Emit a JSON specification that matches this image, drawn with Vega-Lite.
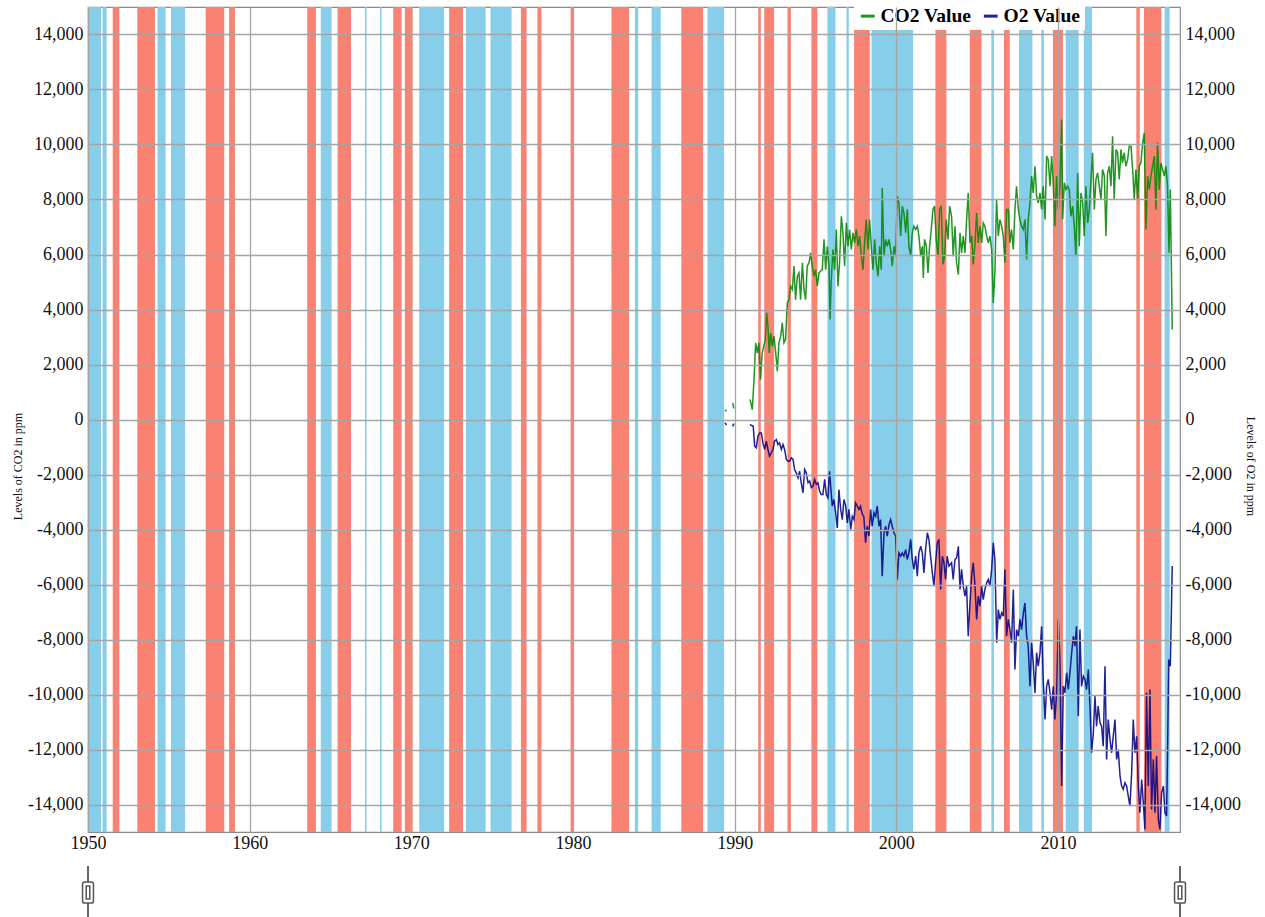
{
  "$schema": "https://vega.github.io/schema/vega-lite/v6.json",
  "autosize": {"type": "none"},
  "width": 1092,
  "height": 825,
  "padding": {"left": 88, "top": 7, "right": 85, "bottom": 85},
  "background": "white",
  "config": {
    "view": {"stroke": "#8a8a8a", "strokeWidth": 1.2},
    "font": "Liberation Serif",
    "axis": {
      "labelFont": "Liberation Serif",
      "labelFontSize": 18,
      "labelColor": "#111",
      "titleFont": "Liberation Serif",
      "titleFontSize": 12,
      "titleFontWeight": "normal",
      "titleColor": "#111",
      "ticks": false,
      "domain": false,
      "gridColor": "#a5a5a5",
      "gridWidth": 1.3,
      "gridOpacity": 1
    }
  },
  "datasets": {
    "bands": [
      {"s": 1950.0, "e": 1950.8, "k": "cold"},
      {"s": 1950.9, "e": 1951.15, "k": "cold"},
      {"s": 1951.53, "e": 1951.94, "k": "warm"},
      {"s": 1953.05, "e": 1954.14, "k": "warm"},
      {"s": 1954.3, "e": 1954.8, "k": "cold"},
      {"s": 1955.13, "e": 1956.0, "k": "cold"},
      {"s": 1957.28, "e": 1958.43, "k": "warm"},
      {"s": 1958.73, "e": 1959.09, "k": "warm"},
      {"s": 1963.56, "e": 1964.1, "k": "warm"},
      {"s": 1964.4, "e": 1965.07, "k": "cold"},
      {"s": 1965.44, "e": 1966.27, "k": "warm"},
      {"s": 1967.13, "e": 1967.23, "k": "cold"},
      {"s": 1968.06, "e": 1968.16, "k": "cold"},
      {"s": 1968.88, "e": 1969.4, "k": "warm"},
      {"s": 1969.6, "e": 1970.08, "k": "warm"},
      {"s": 1970.49, "e": 1972.03, "k": "cold"},
      {"s": 1972.34, "e": 1973.2, "k": "warm"},
      {"s": 1973.38, "e": 1974.6, "k": "cold"},
      {"s": 1974.9, "e": 1976.2, "k": "cold"},
      {"s": 1976.78, "e": 1977.13, "k": "warm"},
      {"s": 1977.8, "e": 1978.05, "k": "warm"},
      {"s": 1979.85, "e": 1980.0, "k": "warm"},
      {"s": 1982.38, "e": 1983.47, "k": "warm"},
      {"s": 1983.83, "e": 1984.03, "k": "cold"},
      {"s": 1984.86, "e": 1985.43, "k": "cold"},
      {"s": 1986.7, "e": 1988.05, "k": "warm"},
      {"s": 1988.32, "e": 1989.35, "k": "cold"},
      {"s": 1991.46, "e": 1991.62, "k": "warm"},
      {"s": 1991.83, "e": 1992.44, "k": "warm"},
      {"s": 1993.27, "e": 1993.48, "k": "warm"},
      {"s": 1994.75, "e": 1995.12, "k": "warm"},
      {"s": 1995.74, "e": 1996.24, "k": "cold"},
      {"s": 1996.92, "e": 1997.06, "k": "cold"},
      {"s": 1997.39, "e": 1998.36, "k": "warm"},
      {"s": 1998.47, "e": 2001.04, "k": "cold"},
      {"s": 2002.42, "e": 2003.1, "k": "warm"},
      {"s": 2004.55, "e": 2005.27, "k": "warm"},
      {"s": 2005.88, "e": 2006.04, "k": "cold"},
      {"s": 2006.66, "e": 2007.02, "k": "warm"},
      {"s": 2007.59, "e": 2008.42, "k": "cold"},
      {"s": 2008.97, "e": 2009.13, "k": "cold"},
      {"s": 2009.69, "e": 2010.31, "k": "warm"},
      {"s": 2010.48, "e": 2011.28, "k": "cold"},
      {"s": 2011.6, "e": 2012.11, "k": "cold"},
      {"s": 2014.85, "e": 2015.06, "k": "warm"},
      {"s": 2015.32, "e": 2016.4, "k": "warm"},
      {"s": 2016.6, "e": 2016.91, "k": "cold"}
    ],
    "co2": [
      {"t": 1989.40, "v": 300, "g": 1}, {"t": 1989.50, "v": 350, "g": 1},
      {"t": 1989.88, "v": 600, "g": 2}, {"t": 1989.95, "v": 400, "g": 2},
      {"t": 1990.95, "v": 730, "g": 3}, {"t": 1991.09, "v": 360, "g": 3}, {"t": 1991.2, "v": 1450, "g": 3}, {"t": 1991.3, "v": 2790, "g": 3},
      {"t": 1991.4, "v": 2420, "g": 3}, {"t": 1991.5, "v": 2790, "g": 3}, {"t": 1991.6, "v": 1450, "g": 3}, {"t": 1991.7, "v": 2420, "g": 3},
      {"t": 1991.8, "v": 2670, "g": 3}, {"t": 1991.9, "v": 2910, "g": 3}, {"t": 1991.98, "v": 3880, "g": 3}, {"t": 1992.06, "v": 3390, "g": 3},
      {"t": 1992.14, "v": 2420, "g": 3}, {"t": 1992.23, "v": 3150, "g": 3}, {"t": 1992.33, "v": 2670, "g": 3}, {"t": 1992.43, "v": 3030, "g": 3},
      {"t": 1992.54, "v": 2420, "g": 3}, {"t": 1992.64, "v": 1760, "g": 3}, {"t": 1992.74, "v": 2790, "g": 3}, {"t": 1992.85, "v": 3030, "g": 3},
      {"t": 1992.95, "v": 3520, "g": 3}, {"t": 1993.05, "v": 2790, "g": 3}, {"t": 1993.15, "v": 2910, "g": 3}, {"t": 1993.26, "v": 4240, "g": 3},
      {"t": 1993.36, "v": 4360, "g": 3}, {"t": 1993.46, "v": 4850, "g": 3}, {"t": 1993.57, "v": 4730, "g": 3}, {"t": 1993.67, "v": 5580, "g": 3},
      {"t": 1993.77, "v": 4360, "g": 3}, {"t": 1993.88, "v": 5210, "g": 3}, {"t": 1993.98, "v": 5330, "g": 3}, {"t": 1994.08, "v": 4360, "g": 3},
      {"t": 1994.19, "v": 5700, "g": 3}, {"t": 1994.29, "v": 4730, "g": 3}, {"t": 1994.39, "v": 4360, "g": 3}, {"t": 1994.49, "v": 5580, "g": 3},
      {"t": 1994.6, "v": 5700, "g": 3}, {"t": 1994.7, "v": 6060, "g": 3}, {"t": 1994.8, "v": 5580, "g": 3}, {"t": 1994.91, "v": 5210, "g": 3},
      {"t": 1995.01, "v": 5450, "g": 3}, {"t": 1995.11, "v": 4850, "g": 3}, {"t": 1995.22, "v": 5330, "g": 3}, {"t": 1995.32, "v": 5390, "g": 3},
      {"t": 1995.42, "v": 5450, "g": 3}, {"t": 1995.53, "v": 6550, "g": 3}, {"t": 1995.63, "v": 5450, "g": 3}, {"t": 1995.73, "v": 6300, "g": 3},
      {"t": 1995.84, "v": 5580, "g": 3}, {"t": 1995.9, "v": 3640, "g": 3}, {"t": 1995.98, "v": 5090, "g": 3}, {"t": 1996.08, "v": 6180, "g": 3},
      {"t": 1996.19, "v": 5450, "g": 3}, {"t": 1996.29, "v": 6910, "g": 3}, {"t": 1996.39, "v": 4850, "g": 3}, {"t": 1996.49, "v": 5700, "g": 3},
      {"t": 1996.6, "v": 7390, "g": 3}, {"t": 1996.7, "v": 6790, "g": 3}, {"t": 1996.8, "v": 5580, "g": 3}, {"t": 1996.91, "v": 7150, "g": 3},
      {"t": 1997.01, "v": 6300, "g": 3}, {"t": 1997.11, "v": 6910, "g": 3}, {"t": 1997.22, "v": 6180, "g": 3}, {"t": 1997.32, "v": 6790, "g": 3},
      {"t": 1997.42, "v": 6420, "g": 3}, {"t": 1997.53, "v": 6910, "g": 3}, {"t": 1997.63, "v": 6300, "g": 3}, {"t": 1997.73, "v": 6670, "g": 3},
      {"t": 1997.84, "v": 5940, "g": 3}, {"t": 1997.94, "v": 5450, "g": 3}, {"t": 1998.04, "v": 6420, "g": 3}, {"t": 1998.14, "v": 7270, "g": 3},
      {"t": 1998.25, "v": 6180, "g": 3}, {"t": 1998.35, "v": 7270, "g": 3}, {"t": 1998.45, "v": 6300, "g": 3}, {"t": 1998.56, "v": 5450, "g": 3},
      {"t": 1998.66, "v": 6550, "g": 3}, {"t": 1998.76, "v": 5700, "g": 3}, {"t": 1998.87, "v": 5210, "g": 3}, {"t": 1998.97, "v": 6300, "g": 3},
      {"t": 1999.07, "v": 5450, "g": 3}, {"t": 1999.13, "v": 8420, "g": 3}, {"t": 1999.24, "v": 5940, "g": 3}, {"t": 1999.34, "v": 6550, "g": 3},
      {"t": 1999.44, "v": 6300, "g": 3}, {"t": 1999.55, "v": 6550, "g": 3}, {"t": 1999.65, "v": 6180, "g": 3}, {"t": 1999.75, "v": 5580, "g": 3},
      {"t": 1999.86, "v": 6300, "g": 3}, {"t": 1999.96, "v": 5940, "g": 3}, {"t": 2000.06, "v": 8120, "g": 3}, {"t": 2000.16, "v": 7880, "g": 3},
      {"t": 2000.27, "v": 6670, "g": 3}, {"t": 2000.37, "v": 7760, "g": 3}, {"t": 2000.47, "v": 7520, "g": 3}, {"t": 2000.58, "v": 6790, "g": 3},
      {"t": 2000.68, "v": 7640, "g": 3}, {"t": 2000.78, "v": 6300, "g": 3}, {"t": 2000.89, "v": 5940, "g": 3}, {"t": 2000.99, "v": 6790, "g": 3},
      {"t": 2001.09, "v": 7030, "g": 3}, {"t": 2001.2, "v": 6910, "g": 3}, {"t": 2001.3, "v": 7030, "g": 3}, {"t": 2001.4, "v": 6670, "g": 3},
      {"t": 2001.51, "v": 5940, "g": 3}, {"t": 2001.61, "v": 6300, "g": 3}, {"t": 2001.67, "v": 5150, "g": 3}, {"t": 2001.75, "v": 6550, "g": 3},
      {"t": 2001.86, "v": 6300, "g": 3}, {"t": 2001.96, "v": 5330, "g": 3}, {"t": 2002.06, "v": 6300, "g": 3}, {"t": 2002.16, "v": 6910, "g": 3},
      {"t": 2002.27, "v": 7640, "g": 3}, {"t": 2002.37, "v": 7760, "g": 3}, {"t": 2002.47, "v": 6550, "g": 3}, {"t": 2002.58, "v": 5940, "g": 3},
      {"t": 2002.68, "v": 7640, "g": 3}, {"t": 2002.78, "v": 7760, "g": 3}, {"t": 2002.89, "v": 5640, "g": 3}, {"t": 2002.99, "v": 5940, "g": 3},
      {"t": 2003.09, "v": 7270, "g": 3}, {"t": 2003.2, "v": 6550, "g": 3}, {"t": 2003.3, "v": 7760, "g": 3}, {"t": 2003.42, "v": 7390, "g": 3},
      {"t": 2003.52, "v": 5940, "g": 3}, {"t": 2003.63, "v": 7030, "g": 3}, {"t": 2003.73, "v": 5700, "g": 3}, {"t": 2003.84, "v": 5270, "g": 3},
      {"t": 2003.94, "v": 6790, "g": 3}, {"t": 2004.04, "v": 6060, "g": 3}, {"t": 2004.14, "v": 6670, "g": 3}, {"t": 2004.25, "v": 6060, "g": 3},
      {"t": 2004.35, "v": 7270, "g": 3}, {"t": 2004.45, "v": 8240, "g": 3}, {"t": 2004.56, "v": 6420, "g": 3}, {"t": 2004.66, "v": 6670, "g": 3},
      {"t": 2004.76, "v": 5640, "g": 3}, {"t": 2004.87, "v": 6420, "g": 3}, {"t": 2004.97, "v": 7520, "g": 3}, {"t": 2005.07, "v": 6420, "g": 3},
      {"t": 2005.18, "v": 7030, "g": 3}, {"t": 2005.28, "v": 6420, "g": 3}, {"t": 2005.38, "v": 7150, "g": 3}, {"t": 2005.48, "v": 7030, "g": 3},
      {"t": 2005.59, "v": 6670, "g": 3}, {"t": 2005.69, "v": 6420, "g": 3}, {"t": 2005.79, "v": 6670, "g": 3}, {"t": 2005.9, "v": 6180, "g": 3},
      {"t": 2006.0, "v": 4240, "g": 3}, {"t": 2006.1, "v": 5330, "g": 3}, {"t": 2006.2, "v": 8000, "g": 3}, {"t": 2006.31, "v": 6670, "g": 3},
      {"t": 2006.41, "v": 7270, "g": 3}, {"t": 2006.52, "v": 7030, "g": 3}, {"t": 2006.62, "v": 6670, "g": 3}, {"t": 2006.72, "v": 5700, "g": 3},
      {"t": 2006.82, "v": 7640, "g": 3}, {"t": 2006.93, "v": 7640, "g": 3}, {"t": 2007.03, "v": 6420, "g": 3}, {"t": 2007.13, "v": 6910, "g": 3},
      {"t": 2007.24, "v": 6180, "g": 3}, {"t": 2007.34, "v": 7640, "g": 3}, {"t": 2007.44, "v": 8480, "g": 3}, {"t": 2007.55, "v": 7640, "g": 3},
      {"t": 2007.65, "v": 7270, "g": 3}, {"t": 2007.75, "v": 7030, "g": 3}, {"t": 2007.86, "v": 6910, "g": 3}, {"t": 2007.96, "v": 7270, "g": 3},
      {"t": 2008.06, "v": 5820, "g": 3}, {"t": 2008.16, "v": 7270, "g": 3}, {"t": 2008.27, "v": 7880, "g": 3}, {"t": 2008.37, "v": 8850, "g": 3},
      {"t": 2008.47, "v": 8240, "g": 3}, {"t": 2008.58, "v": 9210, "g": 3}, {"t": 2008.68, "v": 8120, "g": 3}, {"t": 2008.78, "v": 7880, "g": 3},
      {"t": 2008.89, "v": 8240, "g": 3}, {"t": 2008.99, "v": 7640, "g": 3}, {"t": 2009.09, "v": 8480, "g": 3}, {"t": 2009.2, "v": 7270, "g": 3},
      {"t": 2009.3, "v": 9580, "g": 3}, {"t": 2009.4, "v": 9450, "g": 3}, {"t": 2009.51, "v": 8480, "g": 3}, {"t": 2009.61, "v": 9580, "g": 3},
      {"t": 2009.71, "v": 8610, "g": 3}, {"t": 2009.81, "v": 7030, "g": 3}, {"t": 2009.92, "v": 8850, "g": 3}, {"t": 2010.02, "v": 7640, "g": 3},
      {"t": 2010.12, "v": 8480, "g": 3}, {"t": 2010.23, "v": 10910, "g": 3}, {"t": 2010.29, "v": 7270, "g": 3}, {"t": 2010.39, "v": 8610, "g": 3},
      {"t": 2010.49, "v": 8360, "g": 3}, {"t": 2010.6, "v": 8480, "g": 3}, {"t": 2010.7, "v": 8360, "g": 3}, {"t": 2010.8, "v": 7390, "g": 3},
      {"t": 2010.91, "v": 7760, "g": 3}, {"t": 2011.01, "v": 7030, "g": 3}, {"t": 2011.11, "v": 5940, "g": 3}, {"t": 2011.22, "v": 8970, "g": 3},
      {"t": 2011.32, "v": 6300, "g": 3}, {"t": 2011.42, "v": 8240, "g": 3}, {"t": 2011.53, "v": 7880, "g": 3}, {"t": 2011.63, "v": 6670, "g": 3},
      {"t": 2011.73, "v": 8480, "g": 3}, {"t": 2011.84, "v": 7150, "g": 3}, {"t": 2011.94, "v": 7640, "g": 3}, {"t": 2012.04, "v": 8730, "g": 3},
      {"t": 2012.14, "v": 9700, "g": 3}, {"t": 2012.25, "v": 7640, "g": 3}, {"t": 2012.35, "v": 8730, "g": 3}, {"t": 2012.45, "v": 8970, "g": 3},
      {"t": 2012.56, "v": 8480, "g": 3}, {"t": 2012.66, "v": 8000, "g": 3}, {"t": 2012.76, "v": 9090, "g": 3}, {"t": 2012.87, "v": 8850, "g": 3},
      {"t": 2012.97, "v": 6670, "g": 3}, {"t": 2013.07, "v": 8970, "g": 3}, {"t": 2013.18, "v": 9210, "g": 3}, {"t": 2013.28, "v": 8480, "g": 3},
      {"t": 2013.38, "v": 10300, "g": 3}, {"t": 2013.48, "v": 8000, "g": 3}, {"t": 2013.59, "v": 9820, "g": 3}, {"t": 2013.69, "v": 9700, "g": 3},
      {"t": 2013.79, "v": 8730, "g": 3}, {"t": 2013.9, "v": 9820, "g": 3}, {"t": 2013.99, "v": 9330, "g": 3}, {"t": 2014.1, "v": 9700, "g": 3},
      {"t": 2014.2, "v": 9210, "g": 3}, {"t": 2014.31, "v": 9450, "g": 3}, {"t": 2014.41, "v": 9940, "g": 3}, {"t": 2014.52, "v": 9940, "g": 3},
      {"t": 2014.62, "v": 9090, "g": 3}, {"t": 2014.72, "v": 8000, "g": 3}, {"t": 2014.82, "v": 9090, "g": 3}, {"t": 2014.93, "v": 8000, "g": 3},
      {"t": 2015.03, "v": 9210, "g": 3}, {"t": 2015.13, "v": 9330, "g": 3}, {"t": 2015.24, "v": 10060, "g": 3}, {"t": 2015.34, "v": 10420, "g": 3},
      {"t": 2015.44, "v": 6910, "g": 3}, {"t": 2015.55, "v": 8850, "g": 3}, {"t": 2015.65, "v": 8360, "g": 3}, {"t": 2015.75, "v": 8850, "g": 3},
      {"t": 2015.86, "v": 9210, "g": 3}, {"t": 2015.96, "v": 9580, "g": 3}, {"t": 2016.06, "v": 7640, "g": 3}, {"t": 2016.16, "v": 10060, "g": 3},
      {"t": 2016.27, "v": 8360, "g": 3}, {"t": 2016.37, "v": 9330, "g": 3}, {"t": 2016.47, "v": 9090, "g": 3}, {"t": 2016.58, "v": 8850, "g": 3},
      {"t": 2016.68, "v": 9210, "g": 3}, {"t": 2016.78, "v": 8480, "g": 3}, {"t": 2016.87, "v": 6060, "g": 3}, {"t": 2016.95, "v": 8360, "g": 3},
      {"t": 2017.07, "v": 3270, "g": 3}
    ],
    "o2": [
      {"t": 1989.40, "v": -120, "g": 1}, {"t": 1989.50, "v": -200, "g": 1},
      {"t": 1989.88, "v": -250, "g": 2}, {"t": 1989.95, "v": -150, "g": 2},
      {"t": 1990.95, "v": -180, "g": 3}, {"t": 1991.05, "v": -220, "g": 3}, {"t": 1991.15, "v": -240, "g": 3}, {"t": 1991.24, "v": -970, "g": 3},
      {"t": 1991.34, "v": -1030, "g": 3}, {"t": 1991.44, "v": -610, "g": 3}, {"t": 1991.55, "v": -490, "g": 3}, {"t": 1991.65, "v": -490, "g": 3},
      {"t": 1991.75, "v": -850, "g": 3}, {"t": 1991.86, "v": -1090, "g": 3}, {"t": 1991.96, "v": -790, "g": 3}, {"t": 1992.06, "v": -1090, "g": 3},
      {"t": 1992.16, "v": -1330, "g": 3}, {"t": 1992.27, "v": -1210, "g": 3}, {"t": 1992.37, "v": -1090, "g": 3}, {"t": 1992.47, "v": -790, "g": 3},
      {"t": 1992.58, "v": -730, "g": 3}, {"t": 1992.68, "v": -910, "g": 3}, {"t": 1992.78, "v": -850, "g": 3}, {"t": 1992.89, "v": -1090, "g": 3},
      {"t": 1992.99, "v": -910, "g": 3}, {"t": 1993.09, "v": -1090, "g": 3}, {"t": 1993.2, "v": -1450, "g": 3}, {"t": 1993.3, "v": -1520, "g": 3},
      {"t": 1993.4, "v": -1520, "g": 3}, {"t": 1993.51, "v": -1390, "g": 3}, {"t": 1993.61, "v": -1450, "g": 3}, {"t": 1993.71, "v": -1820, "g": 3},
      {"t": 1993.81, "v": -1940, "g": 3}, {"t": 1993.92, "v": -2120, "g": 3}, {"t": 1994.02, "v": -1880, "g": 3}, {"t": 1994.12, "v": -2300, "g": 3},
      {"t": 1994.23, "v": -2670, "g": 3}, {"t": 1994.33, "v": -1820, "g": 3}, {"t": 1994.43, "v": -1940, "g": 3}, {"t": 1994.54, "v": -2300, "g": 3},
      {"t": 1994.64, "v": -2240, "g": 3}, {"t": 1994.74, "v": -2480, "g": 3}, {"t": 1994.85, "v": -2420, "g": 3}, {"t": 1994.95, "v": -2180, "g": 3},
      {"t": 1995.05, "v": -2360, "g": 3}, {"t": 1995.15, "v": -2300, "g": 3}, {"t": 1995.26, "v": -2610, "g": 3}, {"t": 1995.36, "v": -2730, "g": 3},
      {"t": 1995.46, "v": -2730, "g": 3}, {"t": 1995.57, "v": -2180, "g": 3}, {"t": 1995.67, "v": -2730, "g": 3}, {"t": 1995.77, "v": -2850, "g": 3},
      {"t": 1995.87, "v": -1880, "g": 3}, {"t": 1995.94, "v": -2420, "g": 3}, {"t": 1996.04, "v": -3150, "g": 3}, {"t": 1996.14, "v": -2910, "g": 3},
      {"t": 1996.25, "v": -3390, "g": 3}, {"t": 1996.35, "v": -3940, "g": 3}, {"t": 1996.45, "v": -2550, "g": 3}, {"t": 1996.56, "v": -3270, "g": 3},
      {"t": 1996.66, "v": -3640, "g": 3}, {"t": 1996.76, "v": -2910, "g": 3}, {"t": 1996.87, "v": -3150, "g": 3}, {"t": 1996.97, "v": -3760, "g": 3},
      {"t": 1997.07, "v": -3270, "g": 3}, {"t": 1997.18, "v": -4000, "g": 3}, {"t": 1997.28, "v": -3520, "g": 3}, {"t": 1997.38, "v": -3640, "g": 3},
      {"t": 1997.48, "v": -3030, "g": 3}, {"t": 1997.59, "v": -3150, "g": 3}, {"t": 1997.69, "v": -3270, "g": 3}, {"t": 1997.79, "v": -3150, "g": 3},
      {"t": 1997.9, "v": -3450, "g": 3}, {"t": 1997.99, "v": -3520, "g": 3}, {"t": 1998.1, "v": -4480, "g": 3}, {"t": 1998.2, "v": -3880, "g": 3},
      {"t": 1998.31, "v": -4240, "g": 3}, {"t": 1998.41, "v": -3270, "g": 3}, {"t": 1998.51, "v": -3880, "g": 3}, {"t": 1998.62, "v": -3390, "g": 3},
      {"t": 1998.72, "v": -3520, "g": 3}, {"t": 1998.82, "v": -3150, "g": 3}, {"t": 1998.93, "v": -3880, "g": 3}, {"t": 1999.03, "v": -3640, "g": 3},
      {"t": 1999.13, "v": -5700, "g": 3}, {"t": 1999.24, "v": -4120, "g": 3}, {"t": 1999.34, "v": -3880, "g": 3}, {"t": 1999.44, "v": -4240, "g": 3},
      {"t": 1999.55, "v": -3820, "g": 3}, {"t": 1999.65, "v": -3640, "g": 3}, {"t": 1999.75, "v": -3880, "g": 3}, {"t": 1999.86, "v": -4120, "g": 3},
      {"t": 1999.96, "v": -4240, "g": 3}, {"t": 2000.06, "v": -5820, "g": 3}, {"t": 2000.16, "v": -4850, "g": 3}, {"t": 2000.27, "v": -4970, "g": 3},
      {"t": 2000.37, "v": -4850, "g": 3}, {"t": 2000.47, "v": -4970, "g": 3}, {"t": 2000.58, "v": -4730, "g": 3}, {"t": 2000.68, "v": -5090, "g": 3},
      {"t": 2000.78, "v": -4850, "g": 3}, {"t": 2000.89, "v": -4360, "g": 3}, {"t": 2000.99, "v": -5090, "g": 3}, {"t": 2001.09, "v": -5450, "g": 3},
      {"t": 2001.2, "v": -4970, "g": 3}, {"t": 2001.3, "v": -5700, "g": 3}, {"t": 2001.4, "v": -4850, "g": 3}, {"t": 2001.51, "v": -4610, "g": 3},
      {"t": 2001.61, "v": -4850, "g": 3}, {"t": 2001.71, "v": -5580, "g": 3}, {"t": 2001.81, "v": -4730, "g": 3}, {"t": 2001.92, "v": -4120, "g": 3},
      {"t": 2002.02, "v": -4360, "g": 3}, {"t": 2002.12, "v": -4970, "g": 3}, {"t": 2002.23, "v": -5580, "g": 3}, {"t": 2002.33, "v": -6060, "g": 3},
      {"t": 2002.43, "v": -5210, "g": 3}, {"t": 2002.54, "v": -4480, "g": 3}, {"t": 2002.64, "v": -4360, "g": 3}, {"t": 2002.74, "v": -6180, "g": 3},
      {"t": 2002.85, "v": -4970, "g": 3}, {"t": 2002.95, "v": -5210, "g": 3}, {"t": 2003.05, "v": -5820, "g": 3}, {"t": 2003.15, "v": -4970, "g": 3},
      {"t": 2003.26, "v": -5330, "g": 3}, {"t": 2003.42, "v": -5210, "g": 3}, {"t": 2003.52, "v": -5820, "g": 3}, {"t": 2003.63, "v": -5090, "g": 3},
      {"t": 2003.73, "v": -5030, "g": 3}, {"t": 2003.84, "v": -4610, "g": 3}, {"t": 2003.94, "v": -6180, "g": 3}, {"t": 2004.04, "v": -5450, "g": 3},
      {"t": 2004.14, "v": -6060, "g": 3}, {"t": 2004.25, "v": -6420, "g": 3}, {"t": 2004.35, "v": -6060, "g": 3}, {"t": 2004.45, "v": -7880, "g": 3},
      {"t": 2004.56, "v": -6670, "g": 3}, {"t": 2004.66, "v": -5700, "g": 3}, {"t": 2004.76, "v": -5210, "g": 3}, {"t": 2004.87, "v": -6060, "g": 3},
      {"t": 2004.97, "v": -7270, "g": 3}, {"t": 2005.07, "v": -6420, "g": 3}, {"t": 2005.18, "v": -6790, "g": 3}, {"t": 2005.28, "v": -6060, "g": 3},
      {"t": 2005.38, "v": -6550, "g": 3}, {"t": 2005.48, "v": -6180, "g": 3}, {"t": 2005.59, "v": -5940, "g": 3}, {"t": 2005.69, "v": -5820, "g": 3},
      {"t": 2005.79, "v": -6060, "g": 3}, {"t": 2005.9, "v": -5450, "g": 3}, {"t": 2006.0, "v": -4480, "g": 3}, {"t": 2006.1, "v": -5090, "g": 3},
      {"t": 2006.21, "v": -8120, "g": 3}, {"t": 2006.31, "v": -6910, "g": 3}, {"t": 2006.41, "v": -7270, "g": 3}, {"t": 2006.52, "v": -7030, "g": 3},
      {"t": 2006.62, "v": -7150, "g": 3}, {"t": 2006.72, "v": -5450, "g": 3}, {"t": 2006.82, "v": -7880, "g": 3}, {"t": 2006.93, "v": -7270, "g": 3},
      {"t": 2007.03, "v": -7640, "g": 3}, {"t": 2007.13, "v": -8120, "g": 3}, {"t": 2007.24, "v": -6180, "g": 3}, {"t": 2007.34, "v": -9090, "g": 3},
      {"t": 2007.44, "v": -7640, "g": 3}, {"t": 2007.55, "v": -7880, "g": 3}, {"t": 2007.65, "v": -7270, "g": 3}, {"t": 2007.75, "v": -7640, "g": 3},
      {"t": 2007.86, "v": -7030, "g": 3}, {"t": 2007.96, "v": -6670, "g": 3}, {"t": 2008.06, "v": -7880, "g": 3}, {"t": 2008.16, "v": -8240, "g": 3},
      {"t": 2008.27, "v": -9700, "g": 3}, {"t": 2008.37, "v": -8120, "g": 3}, {"t": 2008.47, "v": -8850, "g": 3}, {"t": 2008.58, "v": -9940, "g": 3},
      {"t": 2008.68, "v": -8480, "g": 3}, {"t": 2008.78, "v": -8970, "g": 3}, {"t": 2008.89, "v": -8480, "g": 3}, {"t": 2008.99, "v": -7520, "g": 3},
      {"t": 2009.09, "v": -9450, "g": 3}, {"t": 2009.2, "v": -10910, "g": 3}, {"t": 2009.3, "v": -9700, "g": 3}, {"t": 2009.4, "v": -9450, "g": 3},
      {"t": 2009.51, "v": -9940, "g": 3}, {"t": 2009.61, "v": -10550, "g": 3}, {"t": 2009.71, "v": -9700, "g": 3}, {"t": 2009.81, "v": -10910, "g": 3},
      {"t": 2009.92, "v": -9940, "g": 3}, {"t": 2010.02, "v": -7270, "g": 3}, {"t": 2010.12, "v": -8730, "g": 3}, {"t": 2010.23, "v": -13330, "g": 3},
      {"t": 2010.33, "v": -9700, "g": 3}, {"t": 2010.43, "v": -9940, "g": 3}, {"t": 2010.54, "v": -9210, "g": 3}, {"t": 2010.64, "v": -9820, "g": 3},
      {"t": 2010.74, "v": -9210, "g": 3}, {"t": 2010.85, "v": -8480, "g": 3}, {"t": 2010.95, "v": -7880, "g": 3}, {"t": 2011.05, "v": -8240, "g": 3},
      {"t": 2011.15, "v": -7520, "g": 3}, {"t": 2011.26, "v": -10790, "g": 3}, {"t": 2011.36, "v": -7640, "g": 3}, {"t": 2011.46, "v": -9700, "g": 3},
      {"t": 2011.57, "v": -9330, "g": 3}, {"t": 2011.67, "v": -9450, "g": 3}, {"t": 2011.77, "v": -9820, "g": 3}, {"t": 2011.88, "v": -9090, "g": 3},
      {"t": 2011.98, "v": -10420, "g": 3}, {"t": 2012.08, "v": -12120, "g": 3}, {"t": 2012.19, "v": -11390, "g": 3}, {"t": 2012.29, "v": -10060, "g": 3},
      {"t": 2012.39, "v": -11150, "g": 3}, {"t": 2012.49, "v": -10420, "g": 3}, {"t": 2012.6, "v": -11030, "g": 3}, {"t": 2012.7, "v": -11150, "g": 3},
      {"t": 2012.8, "v": -11880, "g": 3}, {"t": 2012.91, "v": -8970, "g": 3}, {"t": 2013.01, "v": -12360, "g": 3}, {"t": 2013.11, "v": -10910, "g": 3},
      {"t": 2013.22, "v": -11640, "g": 3}, {"t": 2013.32, "v": -12120, "g": 3}, {"t": 2013.42, "v": -11520, "g": 3}, {"t": 2013.53, "v": -10910, "g": 3},
      {"t": 2013.63, "v": -12360, "g": 3}, {"t": 2013.73, "v": -12000, "g": 3}, {"t": 2013.84, "v": -12970, "g": 3}, {"t": 2013.94, "v": -13330, "g": 3},
      {"t": 2014.04, "v": -13450, "g": 3}, {"t": 2014.14, "v": -13210, "g": 3}, {"t": 2014.25, "v": -13330, "g": 3}, {"t": 2014.35, "v": -13700, "g": 3},
      {"t": 2014.45, "v": -14060, "g": 3}, {"t": 2014.56, "v": -12850, "g": 3}, {"t": 2014.66, "v": -10910, "g": 3}, {"t": 2014.76, "v": -12120, "g": 3},
      {"t": 2014.87, "v": -11520, "g": 3}, {"t": 2014.97, "v": -13330, "g": 3}, {"t": 2015.07, "v": -14300, "g": 3}, {"t": 2015.18, "v": -13090, "g": 3},
      {"t": 2015.28, "v": -13940, "g": 3}, {"t": 2015.38, "v": -14910, "g": 3}, {"t": 2015.48, "v": -9940, "g": 3}, {"t": 2015.59, "v": -13330, "g": 3},
      {"t": 2015.69, "v": -9820, "g": 3}, {"t": 2015.79, "v": -14180, "g": 3}, {"t": 2015.9, "v": -12360, "g": 3}, {"t": 2016.0, "v": -14300, "g": 3},
      {"t": 2016.1, "v": -12240, "g": 3}, {"t": 2016.21, "v": -14550, "g": 3}, {"t": 2016.31, "v": -14910, "g": 3}, {"t": 2016.41, "v": -13580, "g": 3},
      {"t": 2016.52, "v": -13330, "g": 3}, {"t": 2016.62, "v": -14300, "g": 3}, {"t": 2016.72, "v": -14420, "g": 3}, {"t": 2016.78, "v": -12120, "g": 3},
      {"t": 2016.85, "v": -8730, "g": 3}, {"t": 2016.95, "v": -8970, "g": 3}, {"t": 2017.07, "v": -5330, "g": 3}
    ],
    "handles": [{"pos": 1950}, {"pos": 2017.55}]
  },
  "resolve": {"axis": {"y": "independent"}},
  "layer": [
    {
      "data": {"name": "bands"},
      "mark": {"type": "rect"},
      "encoding": {
        "x": {
          "field": "s", "type": "quantitative",
          "scale": {"domain": [1950, 2017.55], "nice": false, "zero": false},
          "axis": {
            "values": [1950, 1960, 1970, 1980, 1990, 2000, 2010],
            "format": "d", "title": null, "grid": true, "zindex": 1,
            "labelPadding": 2, "labelFlush": false
          }
        },
        "x2": {"field": "e"},
        "fill": {
          "field": "k", "type": "nominal",
          "scale": {"domain": ["warm", "cold"], "range": ["#F98273", "#87CEEB"]},
          "legend": null
        }
      }
    },
    {
      "data": {"name": "co2"},
      "mark": {"type": "line", "strokeWidth": 1.5, "opacity": 0.9},
      "encoding": {
        "x": {"field": "t", "type": "quantitative"},
        "y": {
          "field": "v", "type": "quantitative",
          "scale": {"domain": [-15000, 15000], "nice": false, "zero": false},
          "axis": {
            "orient": "left",
            "values": [-14000, -12000, -10000, -8000, -6000, -4000, -2000, 0, 2000, 4000, 6000, 8000, 10000, 12000, 14000],
            "labelExpr": "replace(format(datum.value, ','), '\u2212', '-')",
            "grid": true, "zindex": 1, "labelPadding": 5,
            "title": "Levels of CO2 in ppm",
            "titleX": -71, "titleY": 459, "titleAngle": -90, "titleBaseline": "middle", "titleAlign": "center"
          }
        },
        "detail": {"field": "g", "type": "nominal"},
        "color": {
          "datum": "CO2 Value",
          "scale": {"domain": ["CO2 Value", "O2 Value"], "range": ["#0a8a0a", "#0a0a8a"]},
          "legend": {
            "title": null, "orient": "none", "legendX": 766, "legendY": -5,
            "direction": "horizontal", "fillColor": "white", "padding": 4,
            "symbolType": "stroke", "symbolStrokeWidth": 3, "symbolSize": 190,
            "labelFont": "Liberation Serif", "labelFontSize": 19.5, "labelFontWeight": "bold",
            "labelOffset": 3, "columnPadding": 5,
            "encode": {"labels": {"update": {"fill": {"signal": "datum.value === 'CO2 Value' ? '#0a8a0a' : '#0a0a8a'"}}}}
          }
        }
      }
    },
    {
      "data": {"name": "o2"},
      "mark": {"type": "line", "strokeWidth": 1.5, "opacity": 0.9},
      "encoding": {
        "x": {"field": "t", "type": "quantitative"},
        "y": {
          "field": "v", "type": "quantitative",
          "scale": {"domain": [-15000, 15000], "nice": false, "zero": false},
          "axis": {
            "orient": "right",
            "values": [-14000, -12000, -10000, -8000, -6000, -4000, -2000, 0, 2000, 4000, 6000, 8000, 10000, 12000, 14000],
            "labelExpr": "replace(format(datum.value, ','), '\u2212', '-')",
            "grid": false, "labelPadding": 5,
            "title": "Levels of O2 in ppm",
            "titleX": 70, "titleY": 459, "titleAngle": 90, "titleBaseline": "middle", "titleAlign": "center"
          }
        },
        "detail": {"field": "g", "type": "nominal"},
        "color": {"datum": "O2 Value"}
      }
    },
    {
      "data": {"name": "handles"},
      "mark": {"type": "rule", "color": "#666", "strokeWidth": 2},
      "encoding": {
        "x": {"field": "pos", "type": "quantitative"},
        "y": {"datum": -16236, "scale": {"domain": [-15000, 15000], "nice": false, "zero": false}, "axis": null},
        "y2": {"datum": -18091}
      }
    },
    {
      "data": {"name": "handles"},
      "mark": {
        "type": "point", "filled": false, "fill": "white", "fillOpacity": 1,
        "stroke": "#555", "strokeWidth": 1.5, "opacity": 1, "size": 441,
        "shape": "M-0.52,-0.8A0.2,0.2,0,0,1,-0.32,-1H0.32A0.2,0.2,0,0,1,0.52,-0.8V0.8A0.2,0.2,0,0,1,0.32,1H-0.32A0.2,0.2,0,0,1,-0.52,0.8ZM-0.17,-0.62H0.17V0.62H-0.17Z"
      },
      "encoding": {
        "x": {"field": "pos", "type": "quantitative"},
        "y": {"datum": -17200, "scale": {"domain": [-15000, 15000], "nice": false, "zero": false}, "axis": null}
      }
    }
  ]
}
